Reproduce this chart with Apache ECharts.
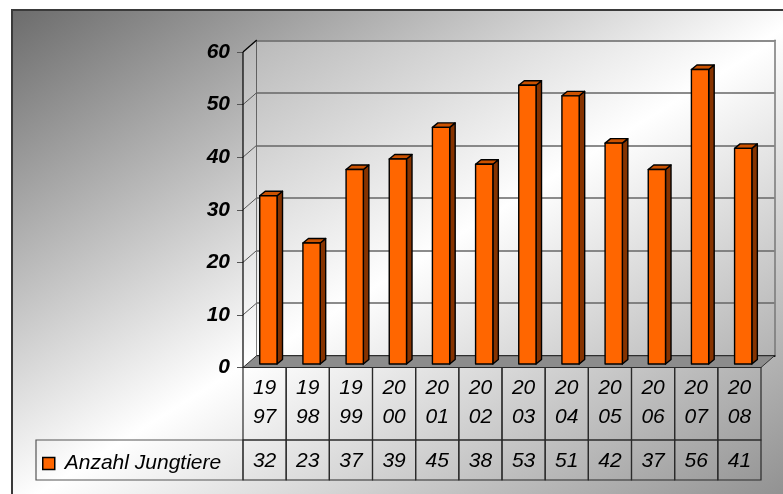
<!DOCTYPE html>
<html>
<head>
<meta charset="utf-8">
<script src="https://cdn.jsdelivr.net/npm/echarts@6/dist/echarts.min.js"></script>
<style>
  html, body { margin: 0; padding: 0; background: #ffffff; }
  #chart { width: 783px; height: 494px; }
</style>
</head>
<body>
<div id="chart"></div>
<script>
// Jungtiere pro Jahr
const years = ['1997', '1998', '1999', '2000', '2001', '2002', '2003', '2004', '2005', '2006', '2007', '2008'];
const jungtiere = [32, 23, 37, 39, 45, 38, 53, 51, 42, 37, 56, 41];
const seriesName = 'Anzahl Jungtiere';
const yTicks = [0, 10, 20, 30, 40, 50, 60];

const FONT = '"Liberation Sans", Arial, sans-serif';
const LINE = '#2a2a2a';

// 3D box: back wall offset relative to the front plane
const DEPTH = [13.5, -11.75];
// bar placement inside the box
const BAR_FRONT = [3.8, -3.5];
const BAR_DEPTH = [5.5, -4.5];
const BAR_WIDTH = 0.4;

// Excel-style diagonal gradient: iso-lines run along the anti-diagonal of the box
function diagGradient(x, y, w, h, stops) {
  const k = 2 * w * h / (w * w + h * h);
  return {
    type: 'linear', global: true,
    x: x, y: y, x2: x + k * h, y2: y + k * w,
    colorStops: stops
  };
}

const bgFill = diagGradient(12, 10, 800, 500, [
  { offset: 0, color: '#6c6c6c' },
  { offset: 0.5, color: '#ffffff' },
  { offset: 1, color: '#8a8a8a' }
]);
const wallFill = diagGradient(243, 40, 532, 328, [
  { offset: 0, color: '#b8b8b8' },
  { offset: 0.5, color: '#ffffff' },
  { offset: 1, color: '#b0b0b0' }
]);

const add = (p, d) => [p[0] + d[0], p[1] + d[1]];

// left and right edge of the band of category i on the front plane
function band(api, i, v) {
  const p = api.coord([i, v]);
  const half = api.size([1, 0])[0] / 2;
  return { l: [p[0] - half, p[1]], r: [p[0] + half, p[1]], c: p };
}

// side wall, floor and the diagonal grid lines on the side wall
function renderWalls(params, api) {
  const n = years.length;
  const a = band(api, 0, yTicks[0]).l;
  const b = band(api, 0, yTicks[yTicks.length - 1]).l;
  const c = band(api, n - 1, yTicks[0]).r;
  const children = [
    { type: 'polygon', shape: { points: [b, add(b, DEPTH), add(a, DEPTH), a] },
      style: { fill: wallFill, stroke: 'none' } },
    { type: 'polygon', shape: { points: [a, c, add(c, DEPTH), add(a, DEPTH)] },
      style: { fill: '#8c8c8c', stroke: '#333', lineWidth: 1 } }
  ];
  yTicks.forEach(function (t, k) {
    if (k === 0) return;
    const p = band(api, 0, t).l;
    const top = k === yTicks.length - 1;
    children.push({ type: 'line', shape: { x1: p[0], y1: p[1], x2: p[0] + DEPTH[0], y2: p[1] + DEPTH[1] },
      style: { stroke: top ? '#000' : '#555', lineWidth: top ? 1.3 : 1 } });
  });
  children.push({ type: 'line', shape: { x1: a[0], y1: a[1], x2: b[0], y2: b[1] },
    style: { stroke: '#000', lineWidth: 1.2 } });
  return { type: 'group', children: children };
}

// 3D column: front face, side face and top face
function renderBar(params, api) {
  const i = api.value(0);
  const v = api.value(1);
  const p0 = api.coord([i, 0]);
  const p1 = api.coord([i, v]);
  const w = api.size([1, 0])[0] * BAR_WIDTH;
  const xl = p0[0] - w / 2 + BAR_FRONT[0];
  const xr = xl + w;
  const yb = p0[1] + BAR_FRONT[1];
  const yt = p1[1] + BAR_FRONT[1];
  const dx = BAR_DEPTH[0], dy = BAR_DEPTH[1];
  const edge = { stroke: '#000', lineWidth: 1.4, lineJoin: 'round' };
  return {
    type: 'group',
    children: [
      { type: 'polygon', shape: { points: [[xr, yt], [xr + dx, yt + dy], [xr + dx, yb + dy], [xr, yb]] },
        style: Object.assign({ fill: '#863300' }, edge) },
      { type: 'polygon', shape: { points: [[xl, yt], [xl + dx, yt + dy], [xr + dx, yt + dy], [xr, yt]] },
        style: Object.assign({ fill: '#cc5200' }, edge) },
      { type: 'rect', shape: { x: xl, y: yt, width: w, height: yb - yt },
        style: Object.assign({ fill: '#ff6600' }, edge) }
    ]
  };
}

// data table below the plot: years and values
function renderTable(params, api) {
  const i = api.value(0);
  const v = api.value(1);
  const bd = band(api, i, 0);
  const y0 = bd.c[1];
  const xl = bd.l[0], xr = bd.r[0], xc = bd.c[0];
  const r1 = y0 + 72.5, r2 = r1 + 40;
  const txt = function (s, y) {
    return { type: 'text', style: { text: s, x: xc, y: y, align: 'center', verticalAlign: 'middle',
      fontFamily: FONT, fontSize: 21, fontStyle: 'italic', fill: '#000' } };
  };
  const children = [
    { type: 'rect', shape: { x: xl, y: y0, width: xr - xl, height: r1 - y0 },
      style: { fill: 'none', stroke: LINE, lineWidth: 1.2 } },
    { type: 'rect', shape: { x: xl, y: r1, width: xr - xl, height: r2 - r1 },
      style: { fill: 'none', stroke: LINE, lineWidth: 1.2 } },
    txt(years[i].slice(0, 2), y0 + 21),
    txt(years[i].slice(2), y0 + 50),
    txt(String(v), r1 + 21)
  ];
  if (i === 0) {
    children.unshift({ type: 'rect', shape: { x: 36, y: r1, width: xl - 36, height: r2 - r1 },
      style: { fill: 'none', stroke: '#555', lineWidth: 1.2 } });
  }
  return { type: 'group', children: children };
}

const chart = echarts.init(document.getElementById('chart'), null, { renderer: 'canvas' });

chart.setOption({
  animation: false,
  backgroundColor: '#ffffff',
  textStyle: { fontFamily: FONT },
  graphic: {
    elements: [{
      type: 'rect', z: -100, silent: true,
      shape: { x: 12, y: 10, width: 800, height: 500 },
      style: { fill: bgFill, stroke: '#3a3a3a', lineWidth: 2 }
    }]
  },
  legend: {
    data: [{ name: seriesName, icon: 'rect' }],
    left: 42, top: 453, padding: 0,
    itemWidth: 12, itemHeight: 12,
    selectedMode: false,
    itemStyle: { color: '#ff6600', borderColor: '#000', borderWidth: 1.5 },
    textStyle: { fontFamily: FONT, fontSize: 21, fontStyle: 'italic', color: '#000', padding: [0, 0, 0, 5] }
  },
  grid: [
    // front plane of the box
    { left: 243, right: 22, top: 52, bottom: 126.5 },
    // back wall
    { left: 256.5, right: 8.5, top: 40.25, bottom: 138.25, show: true,
      backgroundColor: wallFill, borderWidth: 0 }
  ],
  xAxis: [
    { type: 'category', gridIndex: 0, data: years, boundaryGap: true,
      axisLine: { show: false }, axisTick: { show: false }, axisLabel: { show: false } },
    { type: 'category', gridIndex: 1, data: years, boundaryGap: true, position: 'top',
      axisLine: { show: true, lineStyle: { color: '#000', width: 2 } },
      axisTick: { show: false }, axisLabel: { show: false } }
  ],
  yAxis: [
    { type: 'value', gridIndex: 0, min: 0, max: 60, interval: 10,
      axisLine: { show: true, lineStyle: { color: '#000', width: 1 } },
      axisTick: { show: true, length: 6, lineStyle: { color: '#555' } },
      axisLabel: { margin: 13, color: '#000', fontFamily: FONT, fontSize: 21,
        fontWeight: 'bold', fontStyle: 'italic' },
      splitLine: { show: false } },
    { type: 'value', gridIndex: 1, min: 0, max: 60, interval: 10,
      axisLine: { show: true, lineStyle: { color: '#000', width: 1 } },
      axisTick: { show: false }, axisLabel: { show: false },
      splitLine: { show: true, lineStyle: { color: '#666', width: 1.5 } } },
    { type: 'value', gridIndex: 1, min: 0, max: 60, interval: 10, position: 'right',
      axisLine: { show: true, lineStyle: { color: '#777', width: 1.5 } },
      axisTick: { show: false }, axisLabel: { show: false }, splitLine: { show: false } }
  ],
  series: [
    { type: 'custom', name: 'Wände', xAxisIndex: 0, yAxisIndex: 0, z: 1, silent: true,
      renderItem: renderWalls, data: [[0, 0]] },
    { type: 'custom', name: seriesName, xAxisIndex: 0, yAxisIndex: 0, z: 3, silent: true,
      itemStyle: { color: '#ff6600' },
      renderItem: renderBar,
      encode: { x: 0, y: 1 },
      data: jungtiere.map(function (v, i) { return [i, v]; }) },
    { type: 'custom', name: 'Datentabelle', xAxisIndex: 0, yAxisIndex: 0, z: 4, silent: true,
      renderItem: renderTable,
      encode: { x: 0, y: 1 },
      data: jungtiere.map(function (v, i) { return [i, v]; }) }
  ]
});
</script>
</body>
</html>
